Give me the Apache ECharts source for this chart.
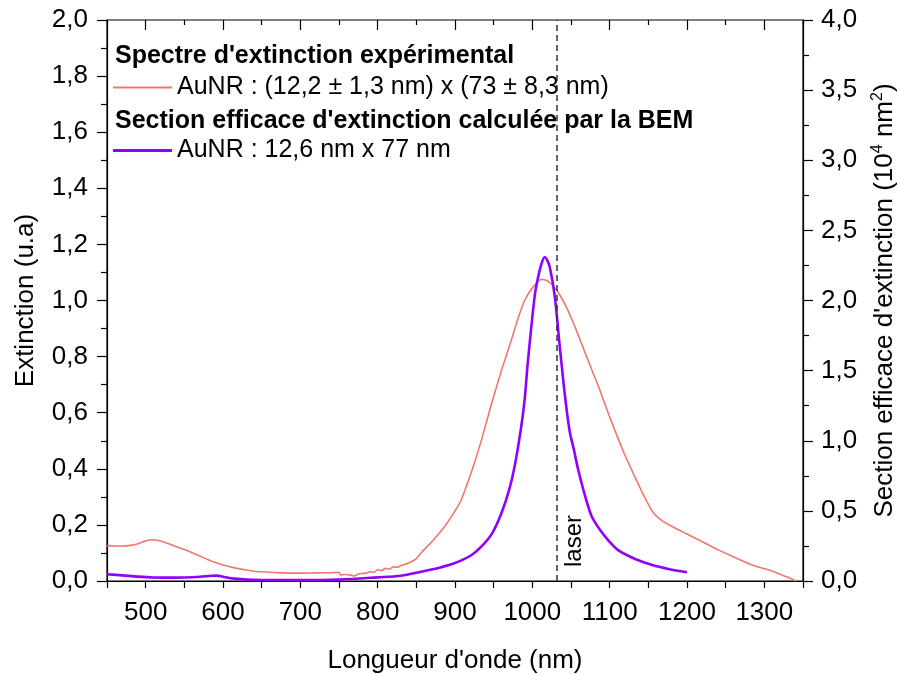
<!DOCTYPE html>
<html>
<head>
<meta charset="utf-8">
<script src="https://cdn.jsdelivr.net/npm/echarts@6/dist/echarts.min.js"></script>
<style>
  html, body { margin: 0; padding: 0; background: #fff; }
  #chart { width: 898px; height: 675px; }
</style>
</head>
<body>
<div id="chart"></div>
<script>
// axis ticks
var xTickLabels = [500, 600, 700, 800, 900, 1000, 1100, 1200, 1300];
var xHalfTicks = [450, 550, 650, 750, 850, 950, 1050, 1150, 1250, 1350];
var laserWl = 1032;

// spectre experimental (extinction, u.a)
var expWl = [450, 460, 470, 480, 490, 500, 508, 515, 525, 540, 550, 560, 570, 580, 590, 600, 610, 620, 630, 640, 650, 670, 700, 720, 740, 750,
  752, 758, 765, 770, 775, 780, 785, 790, 795, 800, 805, 810, 815, 820, 825, 830, 840, 850, 856, 870, 888, 900, 908, 925, 936, 947, 960,
  973, 982, 990, 1000, 1012, 1018, 1025, 1031, 1038, 1046, 1055, 1066, 1077, 1086, 1100, 1118, 1132, 1145, 1156, 1168, 1180,
  1198, 1220, 1241, 1262, 1284, 1306, 1323, 1335, 1341];
var expVal = [0.126, 0.125, 0.125, 0.127, 0.133, 0.143, 0.147, 0.145, 0.137, 0.122, 0.112, 0.101, 0.089, 0.077, 0.066, 0.057, 0.050, 0.044, 0.039, 0.035, 0.033, 0.030, 0.028, 0.029, 0.030, 0.031,
  0.022, 0.023, 0.021, 0.018, 0.025, 0.027, 0.028, 0.033, 0.031, 0.040, 0.037, 0.045, 0.042, 0.050, 0.049, 0.055, 0.064, 0.080, 0.100, 0.140, 0.200, 0.250, 0.289, 0.420, 0.520, 0.630, 0.75,
  0.86, 0.94, 1.0, 1.045, 1.075, 1.072, 1.058, 1.038, 1.008, 0.965, 0.907, 0.83, 0.752, 0.69, 0.585, 0.46, 0.375, 0.30, 0.245, 0.214, 0.195,
  0.17, 0.14, 0.11, 0.084, 0.057, 0.039, 0.021, 0.008, 0.0];

// section efficace BEM (1e4 nm^2)
var bemWl = [450, 470, 490, 510, 530, 550, 570, 585, 592, 600, 615, 630, 650, 700, 750, 800, 830, 856, 880, 899, 920, 934, 948, 960, 970, 977,
  985, 990, 994, 1003, 1008, 1012, 1016, 1019, 1022.5, 1029, 1035.5, 1042, 1048, 1054, 1059, 1068, 1077, 1090, 1098, 1111, 1133, 1155, 1176, 1200];
var bemVal = [0.048, 0.040, 0.031, 0.025, 0.024, 0.025, 0.030, 0.037, 0.038, 0.030, 0.017, 0.010, 0.007, 0.006, 0.010, 0.026, 0.038, 0.066, 0.095, 0.126, 0.18, 0.245, 0.34, 0.483, 0.65, 0.815,
  1.077, 1.29, 1.55, 2.03, 2.18, 2.265, 2.31, 2.29, 2.24, 2.03, 1.67, 1.33, 1.077, 0.93, 0.80, 0.61, 0.458, 0.345, 0.292, 0.22, 0.157, 0.114, 0.086, 0.062];

var expName = 'AuNR : (12,2 ± 1,3 nm) x (73 ± 8,3 nm)';
var bemName = 'AuNR : 12,6 nm x 77 nm';

function pairs(xs, ys) {
  return xs.map(function (x, i) { return [x, ys[i]]; });
}
function comma(v) {
  return v.toFixed(1).replace('.', ',');
}

var font = "'Liberation Sans', Arial, sans-serif";
var axisLine = { show: true, lineStyle: { color: '#000', width: 1.2 } };
var tickStyle = { color: '#000', width: 1.2 };

var chart = echarts.init(document.getElementById('chart'), null, { renderer: 'canvas' });

var option = {
  animation: false,
  textStyle: { fontFamily: font },
  // the grid border gives the top edge of the frame
  grid: {
    left: 107, right: 95, top: 20, bottom: 94, outerBoundsContain: 'axisLabel',
    show: true, borderColor: '#000', borderWidth: 1.2, backgroundColor: 'transparent'
  },
  legend: [
    {
      data: [expName], left: 113, top: 75, padding: 0,
      icon: 'rect', itemWidth: 59, itemHeight: 2,
      textStyle: { fontSize: 25, color: '#000', fontFamily: font }
    },
    {
      data: [bemName], left: 113, top: 138, padding: 0,
      icon: 'rect', itemWidth: 59, itemHeight: 3,
      textStyle: { fontSize: 25, color: '#000', fontFamily: font }
    }
  ],
  graphic: [
    { type: 'text', left: 115, top: 44, style: { text: "Spectre d'extinction expérimental", font: 'bold 25px ' + font, fill: '#000' } },
    { type: 'text', left: 115, top: 109, style: { text: "Section efficace d'extinction calculée par la BEM", font: 'bold 25px ' + font, fill: '#000' } },
    { type: 'text', x: 562, y: 567, rotation: Math.PI / 2, style: { text: 'laser', font: '24px ' + font, fill: '#000' } }
  ],
  xAxis: [
    {
      type: 'value', min: 450, max: 1350, interval: 50, position: 'bottom',
      name: "Longueur d'onde (nm)", nameLocation: 'middle', nameGap: 67,
      nameTextStyle: { fontSize: 26, color: '#000' },
      axisLine: axisLine,
      axisTick: { show: true, length: 7, lineStyle: tickStyle },
      axisLabel: { customValues: xTickLabels, fontSize: 26, color: '#000', margin: 19, formatter: function (v) { return String(v); } },
      splitLine: { show: false }
    },
    {
      type: 'value', min: 450, max: 1350, position: 'top',
      axisLine: { show: false, onZero: false },
      axisTick: { show: true, inside: true, customValues: xHalfTicks, length: 5, lineStyle: tickStyle },
      axisLabel: { show: false },
      splitLine: { show: false }
    },
    {
      type: 'value', min: 450, max: 1350, position: 'top',
      axisLine: { show: false, onZero: false },
      axisTick: { show: true, inside: true, customValues: xTickLabels, length: 10, lineStyle: tickStyle },
      axisLabel: { show: false },
      splitLine: { show: false }
    }
  ],
  yAxis: [
    {
      type: 'value', min: 0, max: 2, interval: 0.2, position: 'left',
      name: 'Extinction (u.a)', nameLocation: 'middle', nameGap: 68, nameRotate: 90,
      nameTextStyle: { fontSize: 26, color: '#000' },
      axisLine: axisLine,
      axisTick: { show: true, length: 10, lineStyle: tickStyle },
      minorTick: { show: true, splitNumber: 2, length: 6, lineStyle: tickStyle },
      axisLabel: { fontSize: 26, color: '#000', margin: 19, formatter: comma },
      splitLine: { show: false }
    },
    {
      type: 'value', min: 0, max: 4, interval: 0.5, position: 'right',
      name: "{a|Section efficace d'extinction (10}{s|4}{a| nm}{s|2}{a|)}",
      nameLocation: 'middle', nameGap: 67, nameRotate: 90,
      nameTextStyle: {
        rich: {
          a: { fontSize: 26, color: '#000', fontFamily: font, lineHeight: 30 },
          s: { fontSize: 16, color: '#000', fontFamily: font, lineHeight: 16, verticalAlign: 'top' }
        }
      },
      axisLine: axisLine,
      axisTick: { show: true, length: 10, lineStyle: tickStyle },
      minorTick: { show: true, splitNumber: 2, length: 6, lineStyle: tickStyle },
      axisLabel: { fontSize: 26, color: '#000', margin: 18, formatter: comma },
      splitLine: { show: false }
    }
  ],
  series: [
    {
      name: expName, type: 'line', xAxisIndex: 0, yAxisIndex: 0,
      data: pairs(expWl, expVal), showSymbol: false, smooth: 0.2,
      color: '#f2776b', lineStyle: { color: '#f2776b', width: 1.6 },
      markLine: {
        silent: true, symbol: ['none', 'none'], label: { show: false },
        lineStyle: { color: '#333', type: [6, 4], width: 1.5 },
        data: [{ xAxis: laserWl }]
      }
    },
    {
      name: bemName, type: 'line', xAxisIndex: 0, yAxisIndex: 1,
      data: pairs(bemWl, bemVal), showSymbol: false, smooth: 0.3,
      color: '#9000ff', lineStyle: { color: '#9000ff', width: 2.6 }
    }
  ]
};

chart.setOption(option);
</script>
</body>
</html>
